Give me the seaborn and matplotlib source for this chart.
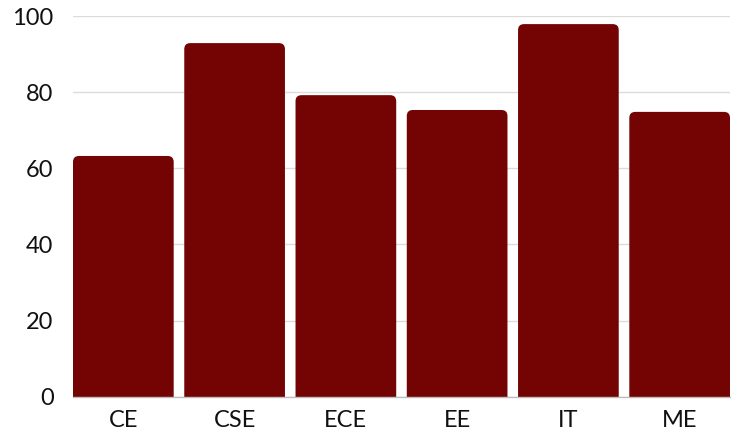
import matplotlib
matplotlib.use("Agg")
import matplotlib.pyplot as plt
import seaborn as sns
import pandas as pd
from matplotlib.patches import FancyBboxPatch

departments = ["CE", "CSE", "ECE", "EE", "IT", "ME"]
values = [63.3, 93.0, 79.3, 75.4, 98.0, 74.9]
y_ticks = [0, 20, 40, 60, 80, 100]

bar_color = "#740404"

sns.set_theme(style="white")
plt.rcParams["font.family"] = ["Lato", "DejaVu Sans"]

fig = plt.figure(figsize=(7.4, 4.36), dpi=100)
ax = fig.add_axes([73 / 740, 39.5 / 436, 657 / 740, 380 / 436])

df = pd.DataFrame({"dept": departments, "value": values})
width = 0.905
sns.barplot(data=df, x="dept", y="value", color=bar_color, width=width,
            saturation=1, ax=ax, zorder=3)

ax.set_xlim(-width / 2, len(departments) - 1 + width / 2)
ax.set_ylim(0, 100)

# rounded top corners
px_x = 657 / (len(departments) - 1 + width)
px_y = 380 / 100
aspect = px_x / px_y
r_px = 6
rx = r_px / px_x
for p in list(ax.patches):
    x, w, h = p.get_x(), p.get_width(), p.get_height()
    ry = rx * aspect
    fb = FancyBboxPatch((x, -ry), w, h + ry,
                        boxstyle=f"round,pad=0,rounding_size={rx}",
                        mutation_aspect=aspect, facecolor=bar_color,
                        edgecolor="none", zorder=3)
    ax.add_patch(fb)
    p.remove()

ax.set_yticks(y_ticks)
ax.set_yticklabels([str(t) for t in y_ticks])
ax.yaxis.grid(True, color="#dcdcdc", linewidth=1.0, zorder=0)
ax.set_axisbelow(True)
ax.set_xlabel("")
ax.set_ylabel("")
for s in ["left", "right", "top"]:
    ax.spines[s].set_visible(False)
ax.spines["bottom"].set_color("#bdbdbd")
ax.spines["bottom"].set_linewidth(1.0)
ax.spines["bottom"].set_zorder(4)
ax.tick_params(axis="y", length=0, pad=14, labelsize=17, labelcolor="#111111")
ax.tick_params(axis="x", length=0, pad=10, labelsize=17, labelcolor="#111111")

fig.savefig("out.png", dpi=100)
